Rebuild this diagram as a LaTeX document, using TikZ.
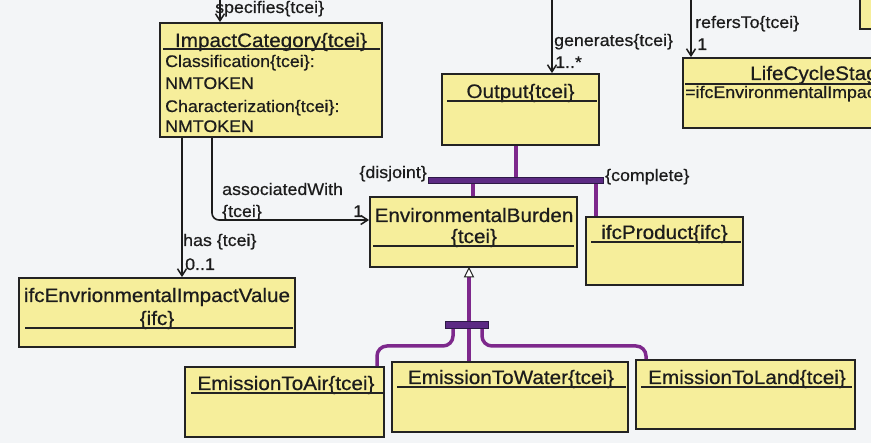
\documentclass[tikz,border=0pt]{standalone}
\usepackage{fontspec}
\setmainfont{Liberation Sans}[FakeStretch=1.06, FakeBold=0.6]
\usetikzlibrary{arrows.meta,calc}
\definecolor{bg}{RGB}{243,245,247}
\definecolor{boxfill}{RGB}{246,238,155}
\definecolor{boxline}{RGB}{35,35,35}
\definecolor{ink}{RGB}{28,28,28}
\definecolor{gen}{RGB}{125,40,140}
\definecolor{genbar}{RGB}{92,42,132}
\definecolor{genedge}{RGB}{45,25,70}

\begin{document}
\begin{tikzpicture}[x=1pt,y=-1pt,
  umlbox/.style={rectangle, draw=boxline, line width=1.8pt, fill=boxfill, inner sep=0pt},
  ttl/.style={font=\fontsize{19.5}{22}\selectfont, text=ink, inner sep=0pt, anchor=base},
  ttlw/.style={font=\fontsize{19.5}{22}\selectfont, text=ink, inner sep=0pt, anchor=base west},
  attr/.style={font=\fontsize{16.8}{19}\selectfont, text=ink, inner sep=0pt, anchor=base west},
  lbl/.style={font=\fontsize{16.8}{19}\selectfont, text=ink, inner sep=0pt, anchor=base west},
  uline/.style={draw=boxline, line width=1.5pt},
  assoc/.style={draw=ink, line width=1.6pt, -{Straight Barb[length=7pt,width=9pt,line width=1.5pt]}},
  genline/.style={draw=gen, line width=3.5pt},
  genbarbox/.style={rectangle, fill=genbar, draw=genedge, line width=0.8pt, inner sep=0pt}
]
\useasboundingbox (0,0) rectangle (871,443);
\fill[bg] (0,0) rectangle (871,443);

% ---- class boxes ----
\node[umlbox, minimum width=222pt, minimum height=114pt] (ic)   at (271,80) {};
\node[umlbox, minimum width=157pt, minimum height=71pt]  (out)  at (520.5,109.5) {};
\node[umlbox, minimum width=321pt, minimum height=70pt]  (lcs)  at (843.5,93) {};
\node[umlbox, minimum width=100pt, minimum height=60pt]  (tr)   at (910,-1) {};
\node[umlbox, minimum width=207pt, minimum height=70pt]  (eb)   at (473.5,232) {};
\node[umlbox, minimum width=157pt, minimum height=68pt]  (prod) at (664.5,251) {};
\node[umlbox, minimum width=276pt, minimum height=69pt]  (eiv)  at (157,312.5) {};
\node[umlbox, minimum width=199pt, minimum height=70pt]  (air)  at (284.5,402) {};
\node[umlbox, minimum width=236pt, minimum height=70pt]  (wat)  at (510,397) {};
\node[umlbox, minimum width=219pt, minimum height=69pt]  (land) at (745.5,394.5) {};

% ---- titles and title rules ----
\node[ttl] (icT) at (271,47) {ImpactCategory\{tcei\}};
\draw[uline] ($(ic.north west)+(4,27)$) -- ($(ic.north east)+(-3,27)$);
\node[attr] (icA1) at (165,67)  {Classification\{tcei\}:};
\node[attr] (icA2) at (165,89)  {NMTOKEN};
\node[attr] (icA3) at (165,112) {Characterization\{tcei\}:};
\node[attr] (icA4) at (165,132) {NMTOKEN};

\node[ttl] (outT) at (520.5,98) {Output\{tcei\}};
\draw[uline] ($(out.north west)+(6,28)$) -- ($(out.north east)+(-3,28)$);

\node[ttlw] (lcsT) at (750,80) {LifeCycleStage\{tcei\}};
\draw[uline] ($(lcs.north west)+(3,27)$) -- ($(lcs.north east)+(-3,27)$);
\node[attr] (lcsA) at (685,98) {=ifcEnvironmentalImpact};

\node[ttl] (ebT1) at (474,222) {EnvironmentalBurden};
\node[ttl] (ebT2) at (474,243) {\{tcei\}};
\draw[uline] ($(eb.north west)+(4,50)$) -- ($(eb.north east)+(-4,50)$);

\node[ttl] (prodT) at (664.5,239) {ifcProduct\{ifc\}};
\draw[uline] ($(prod.north west)+(6,26)$) -- ($(prod.north east)+(-3,26)$);

\node[ttl] (eivT1) at (157,302) {ifcEnvrionmentalImpactValue};
\node[ttl] (eivT2) at (157,325) {\{ifc\}};
\draw[uline] ($(eiv.north west)+(7,51)$) -- ($(eiv.north east)+(-3,51)$);

\node[ttl] (airT) at (286,390) {EmissionToAir\{tcei\}};
\draw[uline] ($(air.north west)+(7,27)$) -- ($(air.north east)+(-2,27)$);

\node[ttl] (watT) at (511,384) {EmissionToWater\{tcei\}};
\draw[uline] ($(wat.north west)+(6,26)$) -- ($(wat.north east)+(-3,26)$);

\node[ttl] (landT) at (747,384) {EmissionToLand\{tcei\}};
\draw[uline] ($(land.north west)+(6,28)$) -- ($(land.north east)+(-4,28)$);

% ---- associations ----
\coordinate (spTop) at (220,-5);
\draw[assoc] (spTop) -- (spTop |- ic.north);
\node[lbl] (spL) at (215,13) {specifies\{tcei\}};

\coordinate (genTop) at (552,-5);
\draw[assoc] (genTop) -- (genTop |- out.north);
\node[lbl] (genL) at (554,46) {generates\{tcei\}};
\node[lbl] (genM) at (555,68) {1..*};

\coordinate (refTop) at (691,-5);
\draw[assoc] (refTop) -- (refTop |- lcs.north);
\node[lbl] (refL) at (695,28) {refersTo\{tcei\}};
\node[lbl] (refM) at (697,50) {1};

\coordinate (hasX) at (182,0);
\draw[assoc] (hasX |- ic.south) -- (hasX |- eiv.north);
\node[lbl] (hasL) at (183,246) {has \{tcei\}};
\node[lbl] (hasM) at (185,270) {0..1};

\coordinate (awX) at (212,0);
\coordinate (awCorner) at (212,220);
\draw[assoc, rounded corners=7pt] (awX |- ic.south) -- (awCorner) -- (awCorner -| eb.west);
\node[lbl] (awL1) at (222,195) {associatedWith};
\node[lbl] (awL2) at (222,217) {\{tcei\}};
\node[lbl] (awM) at (353,217) {1};

% ---- disjoint, complete generalization of Output ----
\node[genbarbox, minimum width=175pt, minimum height=6pt] (dbar) at (515.5,180) {};
\coordinate (oX) at (516,0);
\coordinate (ebX) at (473,0);
\coordinate (prX) at (596,0);
\draw[genline] (oX |- out.south) -- (oX |- dbar.north);
\draw[genline] (ebX |- dbar.south) -- (ebX |- eb.north);
\draw[genline] (prX |- dbar.south) -- (prX |- prod.north);
\node[genbarbox, minimum width=175pt, minimum height=6pt] at (dbar) {};
\node[lbl, anchor=base east] (disL) at (427,178) {\{disjoint\}};
\node[lbl] (comL) at (605,181) {\{complete\}};

% ---- generalization of EnvironmentalBurden ----
\coordinate (tip) at (469,0 |- eb.south);
\coordinate (triBase) at ($(tip)+(0,9)$);
\node[genbarbox, minimum width=43pt, minimum height=7pt] (ebar) at (466.5,324.5) {};
\draw[genline] (triBase) -- (tip |- wat.north);
\coordinate (lX) at (453,0);
\coordinate (rX) at (482,0);
\coordinate (hY) at (0,346);
\coordinate (airX) at (377,0);
\coordinate (landX) at (646,0);
\draw[genline, rounded corners=10pt] (lX |- ebar.south) -- (lX |- hY) -- (airX |- hY) -- (airX |- air.north);
\draw[genline, rounded corners=10pt] (rX |- ebar.south) -- (rX |- hY) -- (landX |- hY) -- (landX |- land.north);
\node[genbarbox, minimum width=43pt, minimum height=7pt] at (ebar) {};
\draw[draw=boxline, line width=1pt, fill=white] (tip) -- ($(tip)+(-4.5,9)$) -- ($(tip)+(4.5,9)$) -- cycle;
\end{tikzpicture}
\end{document}
